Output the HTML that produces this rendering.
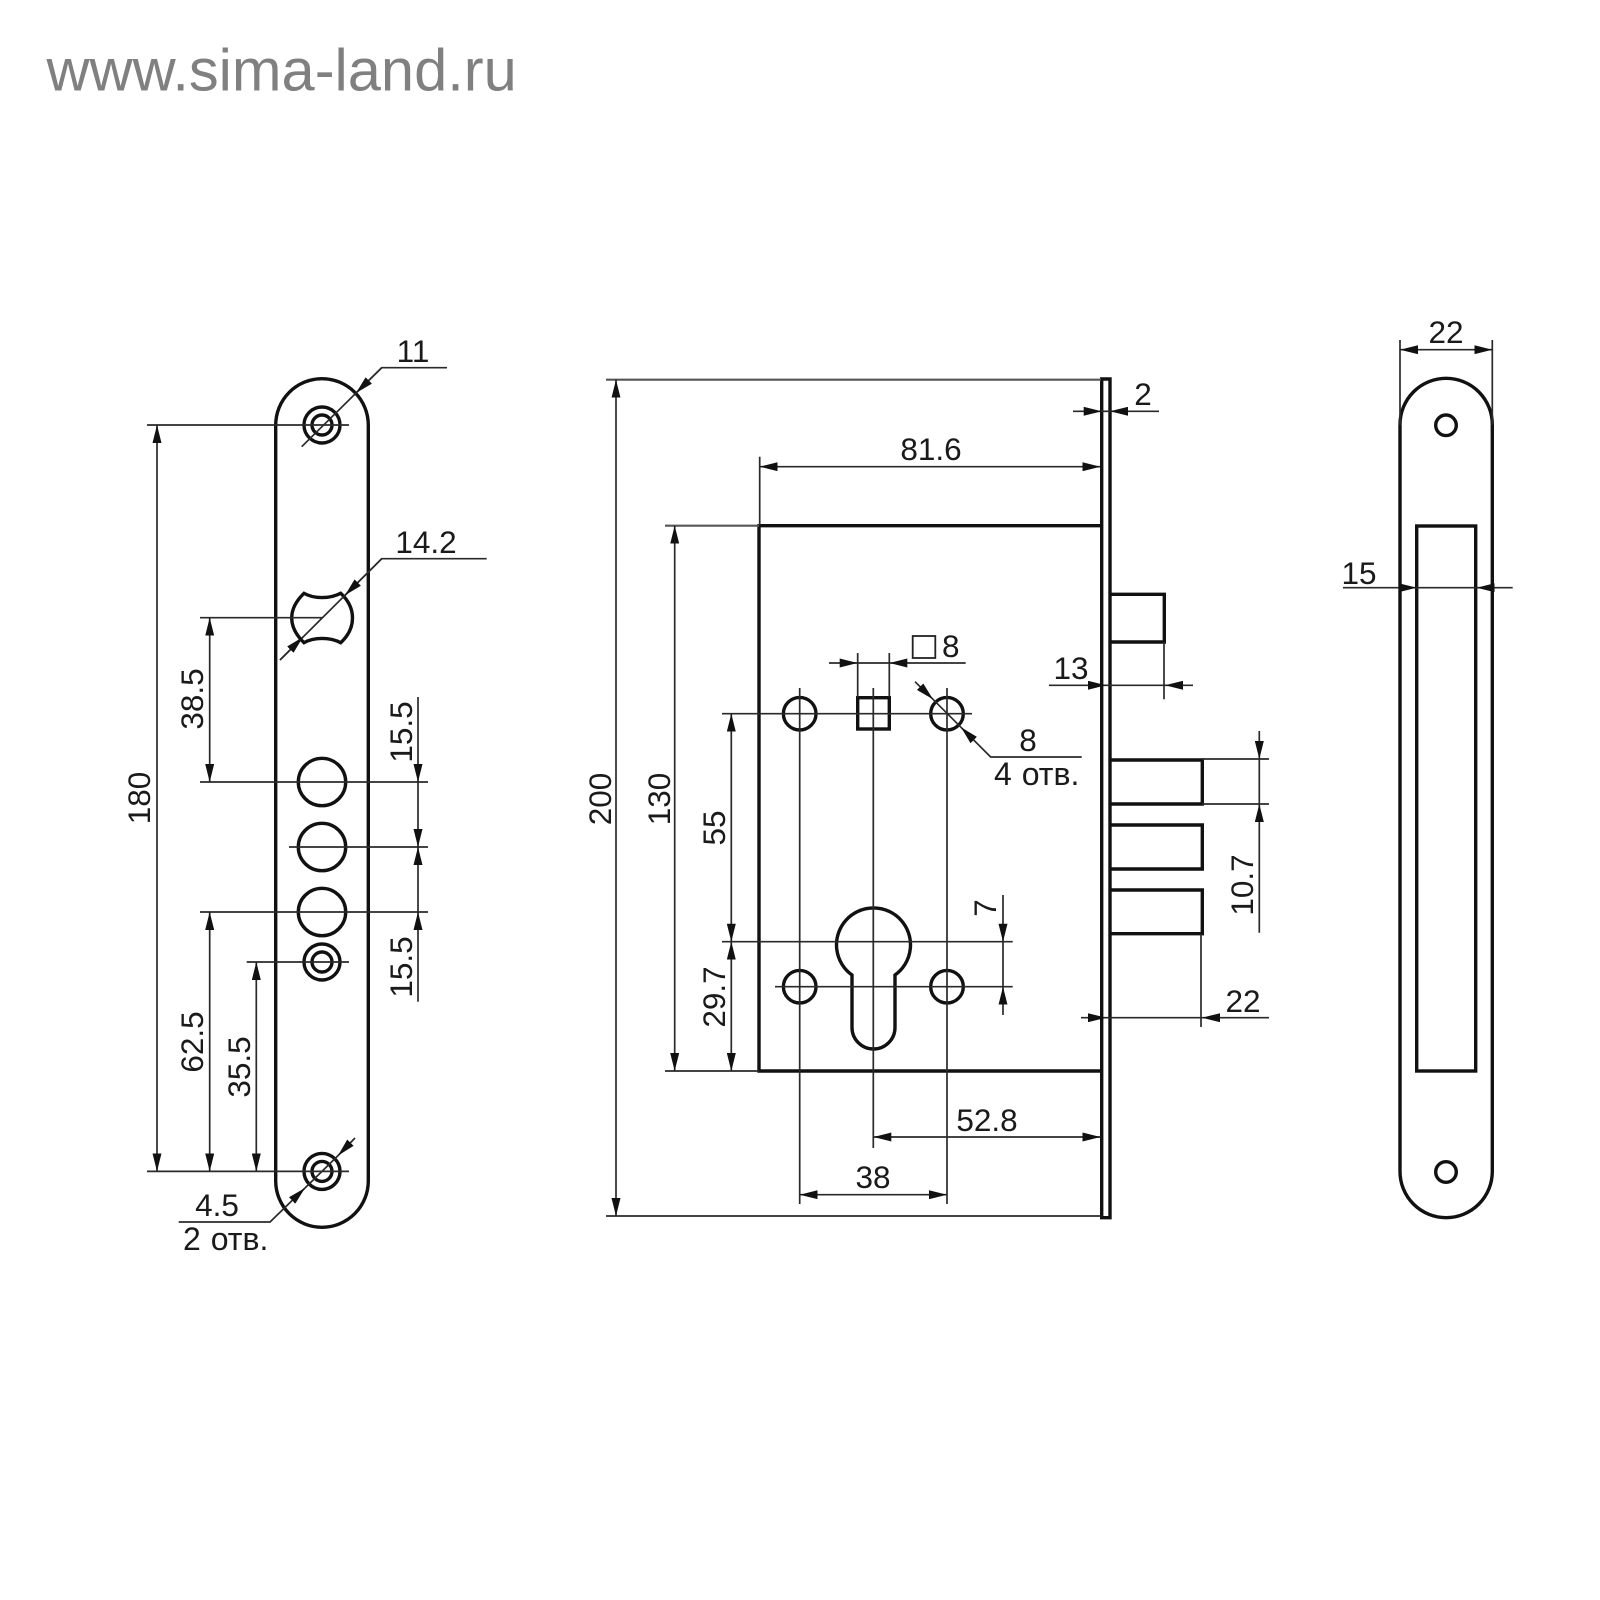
<!DOCTYPE html>
<html>
<head>
<meta charset="utf-8">
<style>
html,body{margin:0;padding:0;background:#fff;}
svg{display:block;}
.k{fill:none;stroke:#111;stroke-width:3.4;}
.t{fill:none;stroke:#2a2a2a;stroke-width:1.7;}
.g{fill:none;stroke:#555;stroke-width:2.2;}
.e{marker-end:url(#a);}
.d{marker-start:url(#a);marker-end:url(#a);}
text{font-family:"Liberation Sans","DejaVu Sans",sans-serif;font-size:31.5px;fill:#1a1a1a;}
.m{text-anchor:middle;}
.o{word-spacing:1px;font-size:32px;}
</style>
</head>
<body>
<svg width="1600" height="1600" viewBox="0 0 1600 1600" xmlns="http://www.w3.org/2000/svg">
<defs>
<marker id="a" viewBox="0 0 18 9" refX="18" refY="4.500" markerWidth="18" markerHeight="9" markerUnits="userSpaceOnUse" orient="auto-start-reverse"><path d="M0 0L18 4.500L0 9Z" fill="#111"/></marker>
</defs>
<rect width="1600" height="1600" fill="#fff"/>
<text x="46.500" y="90.500" style="font-size:59.600px;fill:#808080">www.sima-land.ru</text>

<!-- LEFT PLATE -->
<path class="k" d="M275.700 425A46.300 46.300 0 0 1 368.300 425L368.300 1181A46.300 46.300 0 0 1 275.700 1181Z"/>
<circle class="k" cx="322" cy="425" r="18"/><circle class="k" cx="322" cy="425" r="10"/>
<circle class="k" cx="322" cy="1171.400" r="18"/><circle class="k" cx="322" cy="1171.400" r="10"/>
<circle class="k" cx="322" cy="962" r="18"/><circle class="k" cx="322" cy="962" r="10"/>
<circle class="k" cx="322" cy="782" r="23.700"/><circle class="k" cx="322" cy="847" r="23.700"/><circle class="k" cx="322" cy="912" r="23.700"/>
<path class="k" d="M304 593.300C314 599 330 599 340.700 593.300C349 601 352.500 609 352.500 618C352.500 627 349 635 340.700 642.700C330 637 314 637 304 642.700C296 635 291.700 627 291.700 618C291.700 609 296 601 304 593.300Z"/>
<path class="t" d="M147 425H349M200 617.700H322M200 782H428M289 847H428M200 912H428M246.700 962H349M147 1171.400H349"/>
<path class="t" d="M447 367.700H381.700L301.700 446.700"/>
<path class="t e" d="M381.700 367.700L356 393"/>
<path class="t" d="M486.700 558.700H381.700L280 660"/>
<path class="t e" d="M381.700 558.700L345 595.300"/>
<path class="t e" d="M280 660L303 637"/>
<path class="t d" d="M157 425V1171.400"/>
<path class="t d" d="M209.700 617.700V782"/>
<path class="t d" d="M209.700 912V1171.400"/>
<path class="t d" d="M256.300 962V1171.400"/>
<path class="t e" d="M418 697V782"/>
<path class="t e" d="M418 782V847"/>
<path class="t e" d="M418 912V847"/>
<path class="t e" d="M418 1001.700V912"/>
<path class="t e" d="M178.700 1222H270L305 1188"/>
<path class="t" d="M305 1188L338 1155.600"/>
<path class="t e" d="M355 1138L338 1155.600"/>
<text class="m" x="413" y="362">11</text>
<text class="m" x="426" y="553">14.2</text>
<text class="m" x="217" y="1216">4.5</text>
<text class="o" x="183" y="1250">2 отв.</text>
<text class="m" transform="translate(150 798) rotate(-90)">180</text>
<text class="m" transform="translate(203 699) rotate(-90)">38.5</text>
<text class="m" transform="translate(203 1042) rotate(-90)">62.5</text>
<text class="m" transform="translate(250 1067) rotate(-90)">35.5</text>
<text class="m" transform="translate(412 732) rotate(-90)">15.5</text>
<text class="m" transform="translate(412 967) rotate(-90)">15.5</text>

<!-- CENTER BODY -->
<path class="k" d="M1101.700 379H1110V1217.700H1101.700Z"/>
<path class="k" d="M1101.700 525.700H759V1071H1101.700"/>
<path class="k" d="M1110 594.300H1164.300V642H1110"/>
<path class="k" d="M1110 760H1202.300V804H1110M1110 825H1202.300V869H1110M1110 890H1202.300V933.700H1110"/>
<circle class="k" cx="799.700" cy="713.700" r="16.300"/><circle class="k" cx="947" cy="713.700" r="16.300"/>
<circle class="k" cx="799.700" cy="986.700" r="16.300"/><circle class="k" cx="947" cy="986.700" r="16.300"/>
<rect class="k" x="857.700" y="697.700" width="31.600" height="31.300"/>
<path class="k" d="M852 975A37 37 0 1 1 895 975L895 1027.500A21.500 21.500 0 0 1 852 1027.500Z"/>
<path class="g" d="M606 379.700H1101M665 525.700H759"/>
<path class="t" d="M606 1216H1101M665 1071H759"/>
<path class="t d" d="M616 379.700V1216"/>
<path class="t d" d="M674.700 525.700V1071"/>
<path class="t" d="M759.700 456.700V525"/>
<path class="t d" d="M759.700 466.700H1100.500"/>
<path class="t e" d="M1073 411.300H1101.700"/><path class="t e" d="M1159 411.300H1110"/><path class="t" d="M1101.700 411.300H1110"/>
<path class="t" d="M722 713.700H972M722 941.700H1012.700M775 986.700H1012.700"/>
<path class="t" d="M799.700 688V1204M873.300 688V1148M947 688V1204"/>
<path class="t" d="M857.700 653V697M889.300 653V697"/>
<path class="t e" d="M829 663H857.700"/><path class="t e" d="M965.700 663H889.300"/><path class="t" d="M857.700 663H889.300"/>
<rect x="912.700" y="636" width="22.600" height="22" fill="none" stroke="#222" stroke-width="1.800"/>
<path class="t e" d="M915 681.700L933 699.300"/><path class="t" d="M933 699.300L961 727.300"/>
<path class="t e" d="M1081.700 757H990.700L961 727.300"/>
<path class="t d" d="M731.300 713.700V941.700"/>
<path class="t d" d="M731.300 941.700V1071"/>
<path class="t e" d="M1003 895V941.700"/><path class="t" d="M1003 941.700V986.700"/><path class="t e" d="M1003 1015V986.700"/>
<path class="t d" d="M873.300 1137H1100.500"/>
<path class="t d" d="M799.700 1194.700H947"/>
<path class="t" d="M1164 642V699.300M1106 685.300H1165"/>
<path class="t e" d="M1049 685.300H1106"/><path class="t e" d="M1193 685.300H1165"/>
<path class="t" d="M1202 759H1269M1202 804H1269M1201 934V1027M1106 1017.700H1202"/>
<path class="t e" d="M1259.300 731V759"/><path class="t" d="M1259.300 759V804"/><path class="t e" d="M1259.300 932.700V804"/>
<path class="t e" d="M1081 1017.700H1106"/><path class="t e" d="M1269 1017.700H1202"/>
<text class="m" x="1143" y="405">2</text>
<text class="m" x="931" y="460">81.6</text>
<text x="942" y="657">8</text>
<text class="m" x="1071" y="679">13</text>
<text class="m" x="1028" y="751">8</text>
<text class="o" x="994" y="785">4 отв.</text>
<text class="m" x="987" y="1131">52.8</text>
<text class="m" x="873" y="1188">38</text>
<text class="m" x="1243" y="1012">22</text>
<text class="m" transform="translate(611 799) rotate(-90)">200</text>
<text class="m" transform="translate(670 799) rotate(-90)">130</text>
<text class="m" transform="translate(725 828) rotate(-90)">55</text>
<text class="m" transform="translate(725 997) rotate(-90)">29.7</text>
<text class="m" transform="translate(996 908) rotate(-90)">7</text>
<text class="m" transform="translate(1253 885) rotate(-90)">10.7</text>

<!-- RIGHT PLATE -->
<path class="k" d="M1400 424.500A46.150 46.150 0 0 1 1492.300 424.500L1492.300 1171.500A46.150 46.150 0 0 1 1400 1171.500Z"/>
<circle class="k" cx="1446" cy="425.300" r="10.300"/><circle class="k" cx="1446" cy="1172" r="10.300"/>
<rect class="k" x="1416.700" y="526" width="59" height="545"/>
<path class="t" d="M1400 340V425M1492.300 340V425"/>
<path class="t d" d="M1400 349.700H1492.300"/>
<path class="t e" d="M1343 587.700H1416.700"/><path class="t" d="M1416.700 587.700H1476.700"/><path class="t e" d="M1512.700 587.700H1476.700"/>
<text class="m" x="1446" y="343">22</text>
<text class="m" x="1359" y="584">15</text>
</svg>
</body>
</html>
